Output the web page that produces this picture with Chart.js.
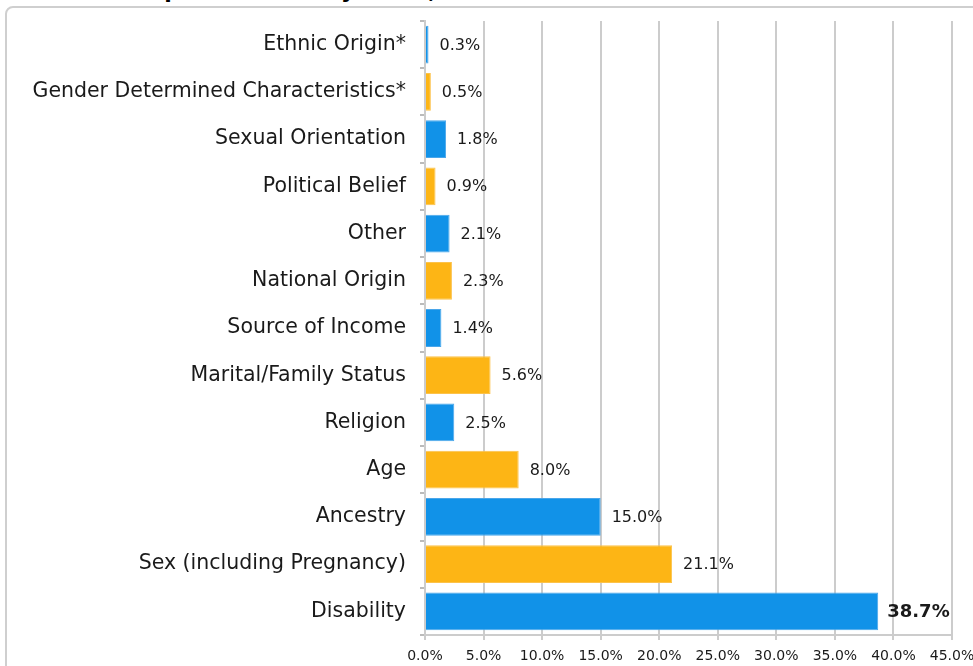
<!DOCTYPE html>
<html>
<head>
<meta charset="utf-8">
<script src="https://cdn.jsdelivr.net/npm/chart.js@4.4.0/dist/chart.umd.min.js"></script>
<style>
  html, body { margin: 0; padding: 0; background: #fff; overflow: hidden; }
  #wrap { position: relative; width: 973px; height: 666px; overflow: hidden; }
  #frame { position: absolute; left: 5px; top: 6px; width: 1010px; height: 720px;
    border: 2px solid #cfcfcf; border-radius: 8px; box-sizing: border-box; }
  #title { position: absolute; left: 110px; top: -22px; font: bold 22px "DejaVu Sans", sans-serif; color: #000; white-space: nowrap; }
  #chartBox { position: absolute; left: 0; top: 0; width: 973px; height: 666px; }
</style>
</head>
<body>
<div id="wrap">
  <div id="title">Complaints Filed by Basis, FY 2016-2017</div>
  <div id="frame"></div>
  <div id="chartBox"><canvas id="basisChart"></canvas></div>
</div>
<script>
const categories = ['Ethnic Origin*', 'Gender Determined Characteristics*', 'Sexual Orientation',
  'Political Belief', 'Other', 'National Origin', 'Source of Income', 'Marital/Family Status',
  'Religion', 'Age', 'Ancestry', 'Sex (including Pregnancy)', 'Disability'];
const percentages = [0.3, 0.5, 1.8, 0.9, 2.1, 2.3, 1.4, 5.6, 2.5, 8.0, 15.0, 21.1, 38.7];
const xTicks = [0, 5, 10, 15, 20, 25, 30, 35, 40, 45];

const blue = '#1192e8';
const gold = '#fdb515';
const barColors = percentages.map((v, i) => i % 2 === 0 ? blue : gold);
const barBorders = percentages.map((v, i) => i % 2 === 0 ? '#4aa6ea' : '#fcc24a');

// draws the percent labels at the end of each bar
const valueLabels = {
  id: 'valueLabels',
  afterDatasetsDraw(chart) {
    const ctx = chart.ctx;
    const meta = chart.getDatasetMeta(0);
    ctx.save();
    ctx.textBaseline = 'middle';
    ctx.fillStyle = '#1a1a1a';
    meta.data.forEach((bar, i) => {
      const biggest = percentages[i] === Math.max(...percentages);
      ctx.font = biggest ? 'bold 18px "DejaVu Sans"' : '16px "DejaVu Sans"';
      ctx.fillText(percentages[i].toFixed(1) + '%', bar.x + (biggest ? 9 : 11), bar.y + 1);
    });
    ctx.restore();
  }
};

new Chart(document.getElementById('basisChart'), {
  type: 'bar',
  data: {
    labels: categories,
    datasets: [{
      data: percentages,
      backgroundColor: barColors,
      borderColor: barBorders,
      borderWidth: 1,
      barPercentage: 0.8,
      categoryPercentage: 1
    }]
  },
  options: {
    indexAxis: 'y',
    responsive: true,
    maintainAspectRatio: false,
    animation: false,
    layout: { padding: { top: 21, right: 21, left: 0, bottom: 0 } },
    plugins: { legend: { display: false }, tooltip: { enabled: false } },
    scales: {
      x: {
        min: 0,
        max: 45,
        afterBuildTicks: scale => { scale.ticks = xTicks.map(v => ({ value: v })); },
        afterFit: scale => {
          scale.height = 31;
          scale.paddingLeft = 0;
          scale.paddingRight = 0;
        },
        grid: { color: '#cccccc', lineWidth: 2, tickLength: 5, drawTicks: true },
        border: { color: '#cccccc', width: 2 },
        ticks: {
          padding: 8,
          color: '#1a1a1a',
          font: { family: 'DejaVu Sans', size: 14 },
          callback: v => v.toFixed(1) + '%'
        }
      },
      y: {
        afterFit: scale => {
          scale.width = 425;
          scale.paddingTop = 0;
          scale.paddingBottom = 0;
        },
        grid: { offset: true, drawOnChartArea: false, color: '#bbbbbb', lineWidth: 2, tickLength: 5 },
        border: { color: '#cccccc', width: 2 },
        ticks: {
          padding: 14,
          color: '#1a1a1a',
          font: { family: 'DejaVu Sans', size: 20.5 }
        }
      }
    }
  },
  plugins: [valueLabels]
});
</script>
</body>
</html>
